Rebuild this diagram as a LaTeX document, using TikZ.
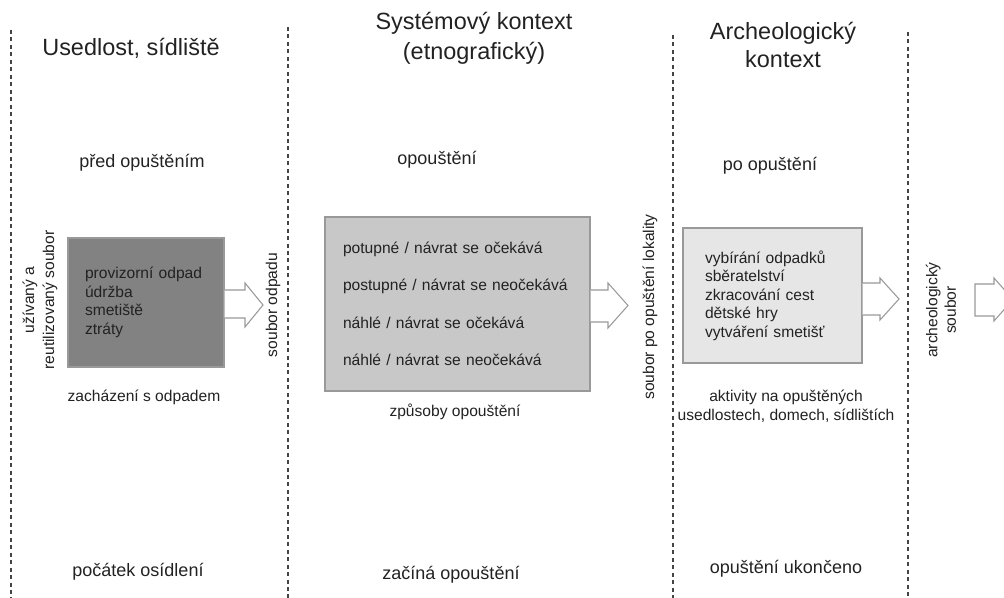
\documentclass[tikz,border=0pt]{standalone}
\usepackage{fontspec}
\setmainfont{Liberation Sans}
\definecolor{txt}{HTML}{222222}
\definecolor{sepc}{HTML}{444444}
\definecolor{fillA}{HTML}{828282}
\definecolor{fillB}{HTML}{C8C8C8}
\definecolor{fillC}{HTML}{E6E6E6}
\definecolor{edge}{HTML}{999999}
\begin{document}
\begin{tikzpicture}[x=0.75pt,y=-0.75pt,
  every node/.style={text=txt, inner sep=0pt},
  title/.style={font=\fontsize{17.6}{22.5}\selectfont, align=center},
  phase/.style={font=\fontsize{13.5}{16}\selectfont},
  lbl/.style={font=\fontsize{11.7}{13.9}\selectfont, align=center},
  box/.style={draw=edge, line width=0.8pt, align=left, anchor=center},
  sepline/.style={draw=sepc, line width=1.1pt, dash pattern=on 3pt off 2.6pt},
  fatarrow/.style={draw=edge, fill=white, line width=0.8pt, line join=miter}
]
\useasboundingbox (0,0) rectangle (1004,598);
\clip (0,0) rectangle (1004,598);

% separators
\coordinate (s1t) at (11,30);  \coordinate (s1b) at (11,598);
\coordinate (s2t) at (288,27); \coordinate (s2b) at (288,598);
\coordinate (s3t) at (673,35); \coordinate (s3b) at (673,598);
\coordinate (s4t) at (908,32); \coordinate (s4b) at (908,598);
\draw[sepline] (s1t) -- (s1b);
\draw[sepline] (s2t) -- (s2b);
\draw[sepline] (s3t) -- (s3b);
\draw[sepline] (s4t) -- (s4b);

% titles
\node[title] (t1) at (131,48) {Usedlost, sídliště};
\node[title] (t2) at (474,38) {Systémový kontext\\(etnografický)};
\node[title, font=\fontsize{17.6}{21}\selectfont] (t3) at (783,45) {Archeologický\\kontext};

% phases
\node[phase] (p1) at (142,163) {před opuštěním};
\node[phase] (p2) at (437,160) {opouštění};
\node[phase] (p3) at (770,166) {po opuštění};
\node[phase] (q1) at (138,572) {počátek osídlení};
\node[phase] (q2) at (451,575) {začíná opouštění};
\node[phase] (q3) at (786,569) {opuštění ukončeno};

% boxes
\node[box, fill=fillA, inner xsep=12.75pt, text width=91.5pt, minimum height=96.75pt,
      font=\fontsize{11.7}{13.9}\selectfont] (b1) at (146,302.5)
  {provizorní odpad\\údržba\\smetiště\\ztráty};
\node[box, fill=fillB, inner xsep=13.5pt, text width=171.75pt, minimum height=130.5pt,
      font=\fontsize{11.7}{28}\selectfont] (b2) at (457.5,304)
  {potupné / návrat se očekává\\postupné / návrat se neočekává\\náhlé / návrat se očekává\\náhlé / návrat se neočekává};
\node[box, fill=fillC, inner xsep=16.5pt, text width=101.25pt, minimum height=101.25pt,
      font=\fontsize{11.7}{13.9}\selectfont] (b3) at (772.5,295.5)
  {vybírání odpadků\\sběratelství\\zkracování cest\\dětské hry\\vytváření smetišť};

% labels under boxes
\node[lbl] (l1) at (144,397) {zacházení s odpadem};
\node[lbl] (l2) at (455,412) {způsoby opouštění};
\node[lbl] (l3) at (786,406) {aktivity na opuštěných\\usedlostech, domech, sídlištích};

% rotated labels
\node[lbl, rotate=90, font=\fontsize{11.7}{15}\selectfont] (r0) at (40,300) {užívaný a\\reutilizovaný soubor};
\node[lbl, rotate=90] (r1) at (273,305) {soubor odpadu};
\node[lbl, rotate=90] (r2) at (650,307) {soubor po opuštění lokality};
\node[lbl, rotate=90] (r3) at (941,310) {archeologický\\soubor};

% block arrows
\draw[fatarrow] (b1.east |- 0,290) -- (245,290) -- (245,283) -- (263,305) -- (245,327) -- (245,318) -- (b1.east |- 0,318);
\draw[fatarrow] (b2.east |- 0,290) -- (608,290) -- (608,283) -- (628,305.5) -- (608,328) -- (608,322) -- (b2.east |- 0,322);
\draw[fatarrow] (b3.east |- 0,283) -- (880,283) -- (880,278) -- (899,299) -- (880,320) -- (880,315) -- (b3.east |- 0,315);
\coordinate (fa) at (975,284);
\draw[fatarrow] (fa) -- (994,284) -- (994,278) -- (1013,299.5) -- (994,321) -- (994,316) -- (975,316) -- cycle;
\end{tikzpicture}
\end{document}
